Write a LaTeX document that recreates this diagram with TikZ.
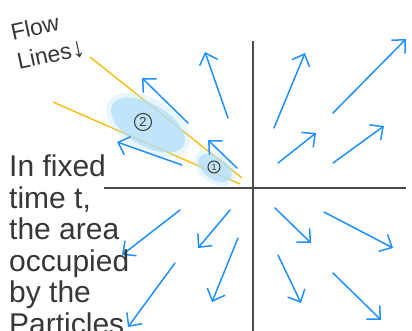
\documentclass[tikz,border=0pt]{standalone}
\usepackage{fontspec}
\setmainfont{Liberation Sans}
\usetikzlibrary{arrows.meta,positioning}
\definecolor{flowblue}{RGB}{30,144,255}
\definecolor{lineorange}{RGB}{255,184,0}
\definecolor{blobblue}{RGB}{176,222,250}
\definecolor{inkgray}{RGB}{55,55,55}
\tikzset{
  axis/.style={draw=inkgray!90, line width=1.6pt},
  field/.style={-{Straight Barb[length=10pt,width=19pt]}, flowblue, line width=1.5pt, line cap=round},
  flowline/.style={lineorange, line width=1.3pt},
  blob/.style={fill=blobblue, opacity=0.7},
  softblob/.style={fill=blobblue, opacity=0.3},
  hand/.style={text=inkgray, font=\fontsize{30}{32}\selectfont, inner sep=0pt, anchor=base west},
  tag/.style={text=inkgray, font=\fontsize{23}{30}\selectfont, inner sep=0pt, align=left, rotate=12},
  particle/.style={circle, draw=inkgray, line width=1pt, inner sep=0pt, text=inkgray}
}

\begin{document}
\begin{tikzpicture}[x=1pt, y=-1pt]
  \useasboundingbox (0,0) rectangle (412,330);
  % axes
  \draw[axis] (253,41) -- (253,332);
  \draw[axis] (104,188) -- (406,188);
  % flow lines
  \draw[flowline] (90,57) -- (242,178);
  \draw[flowline] (53,102) -- (240,184);
  % areas of the particles
  \fill[softblob, shift={(148,125)}, rotate=-30] (0,0) ellipse [x radius=46pt, y radius=26pt];
  \fill[blob, shift={(148,125)}, rotate=-30] (0,0) ellipse [x radius=41pt, y radius=21pt];
  \fill[softblob, shift={(215,168)}, rotate=-35] (0,0) ellipse [x radius=23pt, y radius=15pt];
  \fill[blob, shift={(215,168)}, rotate=-35] (0,0) ellipse [x radius=19pt, y radius=11pt];
  % velocity field
  \foreach \xa/\ya/\xb/\yb in {274/128/305/53, 333/113/406/39, 278/163/316/133, 333/163/384/126,
      228/118/205/52, 188/123/142/78, 237/168/208/140, 182/165/117/142,
      180/210/122/255, 230/210/198/248, 175/263/128/327, 238/238/212/302,
      275/208/311/243, 324/212/393/248, 278/255/301/303, 333/273/381/320}
    \draw[field] (\xa,\ya) -- (\xb,\yb);
  % particles
  \node[particle, minimum size=17pt, font=\fontsize{13}{13}\selectfont] (p2) at (143,122) {2};
  \node[particle, minimum size=12pt, font=\fontsize{9}{9}\selectfont] (p1) at (214,167) {1};
  % labels
  \node[tag] (flowtag) at (48,40) {Flow\\Lines{\fontsize{28}{28}\selectfont ↓}};
  \foreach \ln [count=\i] in {In fixed, {time t,}, the area, occupied, by the, Particles}
    \node[hand] (line\i) at (9,145+31.5*\i) {\ln};
\end{tikzpicture}
\end{document}
